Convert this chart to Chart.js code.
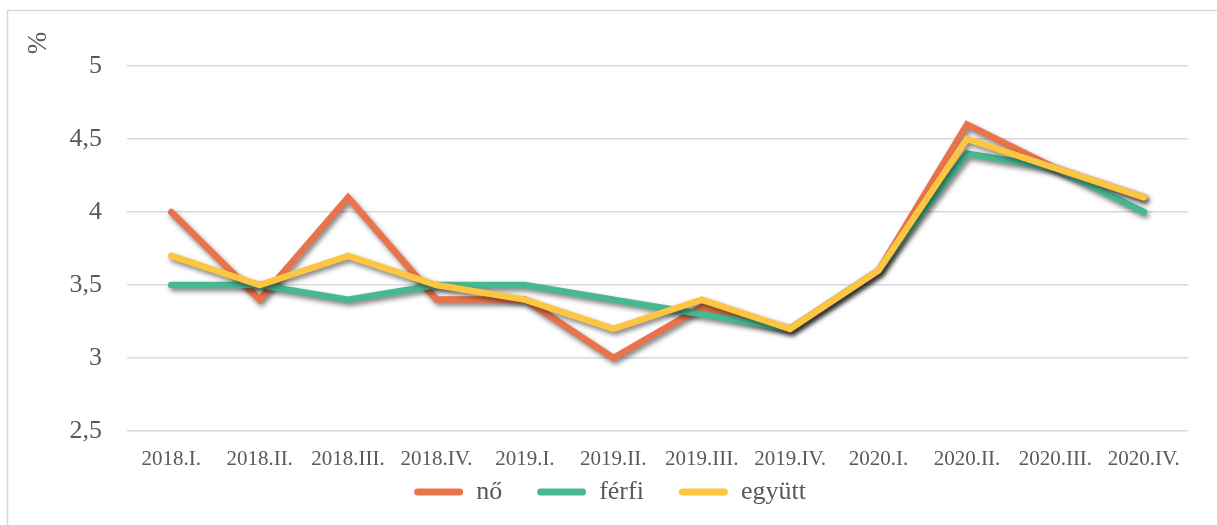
<!DOCTYPE html>
<html>
<head>
<meta charset="utf-8">
<script src="https://cdn.jsdelivr.net/npm/chart.js@4"></script>
<style>
  html, body { margin: 0; padding: 0; background: #ffffff; }
  #wrap { width: 1217px; height: 525px; position: relative; }
</style>
</head>
<body>
<div id="wrap"><canvas id="c" width="1217" height="525"></canvas></div>
<script>
const categories = ['2018.I.', '2018.II.', '2018.III.', '2018.IV.', '2019.I.', '2019.II.', '2019.III.', '2019.IV.', '2020.I.', '2020.II.', '2020.III.', '2020.IV.'];
const noValues     = [4.0, 3.4, 4.1, 3.4, 3.4, 3.0, 3.35, 3.2, 3.6, 4.6, 4.3, 4.1];
const ferfiValues  = [3.5, 3.5, 3.4, 3.5, 3.5, 3.4, 3.3, 3.2, 3.6, 4.4, 4.3, 4.0];
const egyuttValues = [3.7, 3.5, 3.7, 3.5, 3.4, 3.2, 3.4, 3.2, 3.6, 4.5, 4.3, 4.1];
const seriesNames  = ['nő', 'férfi', 'együtt'];
const yTicks = [2.5, 3, 3.5, 4, 4.5, 5];
const axisTitle = '%';

const colors = ['#E9734B', '#47B88F', '#FDC642'];
const serif = '"Liberation Serif", "Times New Roman", serif';

const frameAndLabel = {
  id: 'frameAndLabel',
  beforeDraw(chart) {
    const ctx = chart.ctx;
    ctx.save();
    ctx.fillStyle = '#ffffff';
    ctx.fillRect(0, 0, chart.width, chart.height);
    ctx.strokeStyle = '#d9d9d9';
    ctx.lineWidth = 1.5;
    ctx.strokeRect(7.5, 10.5, 1240, 540);
    ctx.restore();
  },
  afterDraw(chart) {
    const ctx = chart.ctx;
    ctx.save();
    ctx.translate(39, 43);
    ctx.rotate(-Math.PI / 2);
    ctx.fillStyle = '#595959';
    ctx.font = '27px ' + serif;
    ctx.textAlign = 'center';
    ctx.textBaseline = 'middle';
    ctx.fillText(axisTitle, 0, 0);
    ctx.restore();
  }
};

const shadow = {
  id: 'shadow',
  beforeDatasetDraw(chart) {
    const ctx = chart.ctx;
    ctx.save();
    ctx.shadowColor = 'rgba(0,0,0,0.5)';
    ctx.shadowBlur = 5;
    ctx.shadowOffsetX = 2;
    ctx.shadowOffsetY = 3;
  },
  afterDatasetDraw(chart) {
    chart.ctx.restore();
  }
};

const values = [noValues, ferfiValues, egyuttValues];
const datasets = values.map((v, i) => ({
  label: seriesNames[i],
  data: v,
  borderColor: colors[i],
  backgroundColor: colors[i],
  borderWidth: 6.5,
  borderJoinStyle: 'miter',
  borderCapStyle: 'round',
  tension: 0,
  pointRadius: 0,
  pointHoverRadius: 0,
  fill: false,
  order: 3 - i
}));

new Chart(document.getElementById('c'), {
  type: 'line',
  data: { labels: categories, datasets },
  plugins: [frameAndLabel, shadow],
  options: {
    responsive: false,
    animation: false,
    events: [],
    layout: { padding: { left: 32, right: 29, top: 66, bottom: 10 } },
    scales: {
      x: {
        offset: true,
        grid: { display: false, drawTicks: false },
        border: { display: false },
        ticks: {
          color: '#595959',
          font: { family: serif, size: 21 },
          padding: 16,
          maxRotation: 0,
          autoSkip: false
        },
        afterFit(scale) {
          scale.height = 13;
          scale._computeLabelArea = () => undefined;
        }
      },
      y: {
        min: 2.5,
        max: 5,
        afterBuildTicks(scale) { scale.ticks = yTicks.map(v => ({ value: v })); },
        grid: { color: '#d9d9d9', lineWidth: 1.5, drawTicks: false },
        border: { display: false },
        ticks: {
          color: '#595959',
          font: { family: serif, size: 26 },
          padding: 25,
          callback: v => String(v).replace('.', ',')
        },
        afterFit(scale) { scale.width = 95; }
      }
    },
    plugins: {
      tooltip: { enabled: false },
      legend: {
        position: 'bottom',
        labels: {
          color: '#595959',
          font: { family: serif, size: 26 },
          boxWidth: 49,
          boxHeight: 7,
          padding: 35,
          useBorderRadius: true,
          borderRadius: 3.5,
          sort: (a, b) => a.datasetIndex - b.datasetIndex,
          generateLabels(chart) {
            const items = Chart.defaults.plugins.legend.labels.generateLabels(chart);
            items.forEach(it => { it.lineWidth = 0; it.strokeStyle = 'rgba(0,0,0,0)'; it.fillStyle = colors[it.datasetIndex]; });
            return items;
          }
        }
      }
    }
  }
});
</script>
</body>
</html>
